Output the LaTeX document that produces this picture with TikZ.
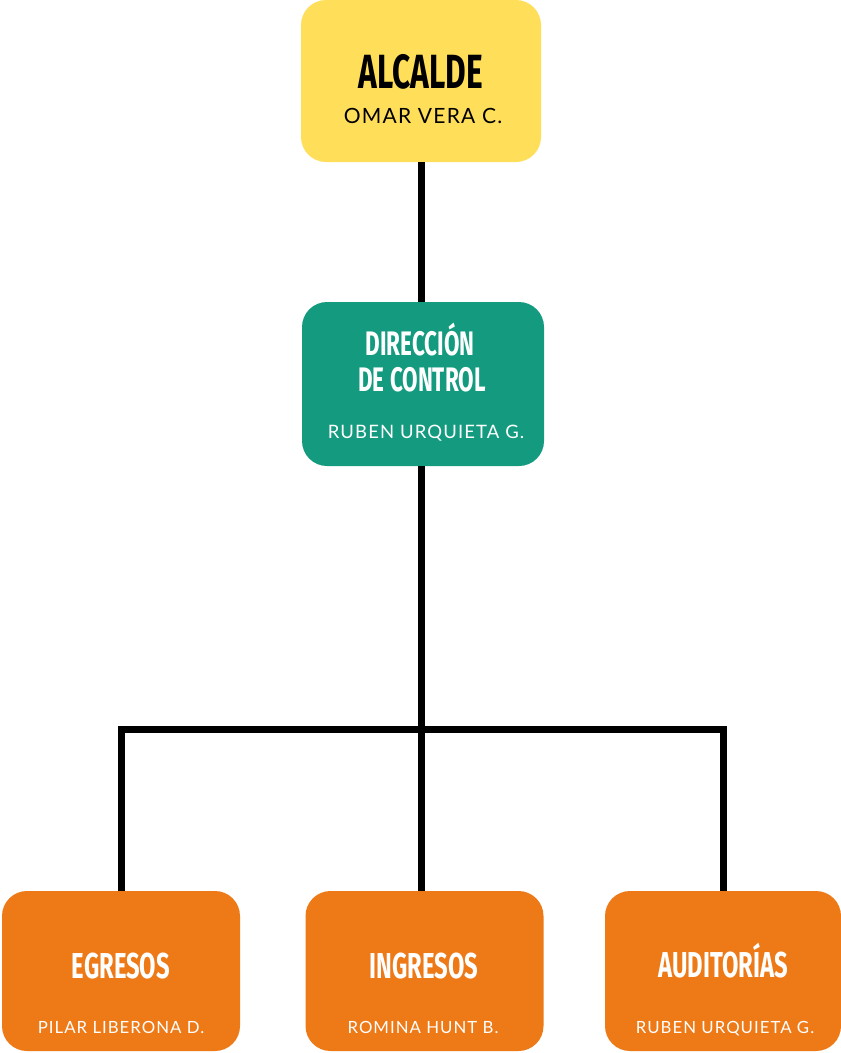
\documentclass[tikz,border=0pt]{standalone}
\usepackage{fontspec}
\setmainfont{Lato}
\newfontfamily\hdfont{Fira Sans}[FakeStretch=0.66]
\newfontfamily\nmfont{Lato}[LetterSpace=6]
\definecolor{yel}{HTML}{FFDE59}
\definecolor{teal}{HTML}{149A7F}
\definecolor{org}{HTML}{EE7917}
\begin{document}
\begin{tikzpicture}[x=1pt,y=-1pt,
  box/.style={rectangle,rounded corners=25pt,inner sep=0pt,outer sep=0pt,minimum height=160pt},
  head/.style={anchor=base,inner sep=0pt,font=\hdfont\bfseries},
  who/.style={anchor=base,inner sep=0pt,font=\nmfont},
  conn/.style={line width=7pt,line join=miter,black}]
\useasboundingbox (0,0) rectangle (841,1053);
% boxes
\node[box,fill=yel,minimum width=240pt,minimum height=162pt] (alc) at (421,81) {};
\node[box,fill=teal,minimum width=242pt,minimum height=164pt] (dir) at (423,384) {};
\node[box,fill=org,minimum width=238pt] (egr) at (121,971) {};
\node[box,fill=org,minimum width=238pt] (ing) at (424.5,971) {};
\node[box,fill=org,minimum width=236pt] (aud) at (723,971) {};
% texts
\node[head,font=\hdfont\bfseries\fontsize{48}{48}\selectfont] (t1) at (421,88) {ALCALDE};
\node[who,font=\nmfont\fontsize{21}{21}\selectfont] (n1) at (423,123) {OMAR VERA C.};
\node[head,font=\hdfont\bfseries\fontsize{34}{34}\selectfont,text=white] (t2a) at (420,355) {DIRECCIÓN};
\node[head,font=\hdfont\bfseries\fontsize{34}{34}\selectfont,text=white] (t2b) at (422,391) {DE CONTROL};
\node[who,font=\nmfont\fontsize{18.5}{18.5}\selectfont,text=white] (n2) at (426,438) {RUBEN URQUIETA G.};
\node[head,font=\hdfont\bfseries\fontsize{36}{36}\selectfont,text=white] (t3) at (121,978) {EGRESOS};
\node[who,font=\nmfont\fontsize{16.8}{16.8}\selectfont,text=white] (n3) at (121,1033) {PILAR LIBERONA D.};
\node[head,font=\hdfont\bfseries\fontsize{36}{36}\selectfont,text=white] (t4) at (424,978) {INGRESOS};
\node[who,font=\nmfont\fontsize{16.8}{16.8}\selectfont,text=white] (n4) at (423,1033) {ROMINA HUNT B.};
\node[head,font=\hdfont\bfseries\fontsize{36}{36}\selectfont,text=white] (t5) at (723,977) {AUDITORÍAS};
\node[who,font=\nmfont\fontsize{16.8}{16.8}\selectfont,text=white] (n5) at (725,1033) {RUBEN URQUIETA G.};
% connectors
\coordinate (j) at (421.5,729.5);
\draw[conn] (j |- alc.south) -- (j |- dir.north);
\draw[conn] (j |- dir.south) -- (j |- ing.north);
\draw[conn] (egr.north) |- (j) -| (aud.north);
\end{tikzpicture}
\end{document}
